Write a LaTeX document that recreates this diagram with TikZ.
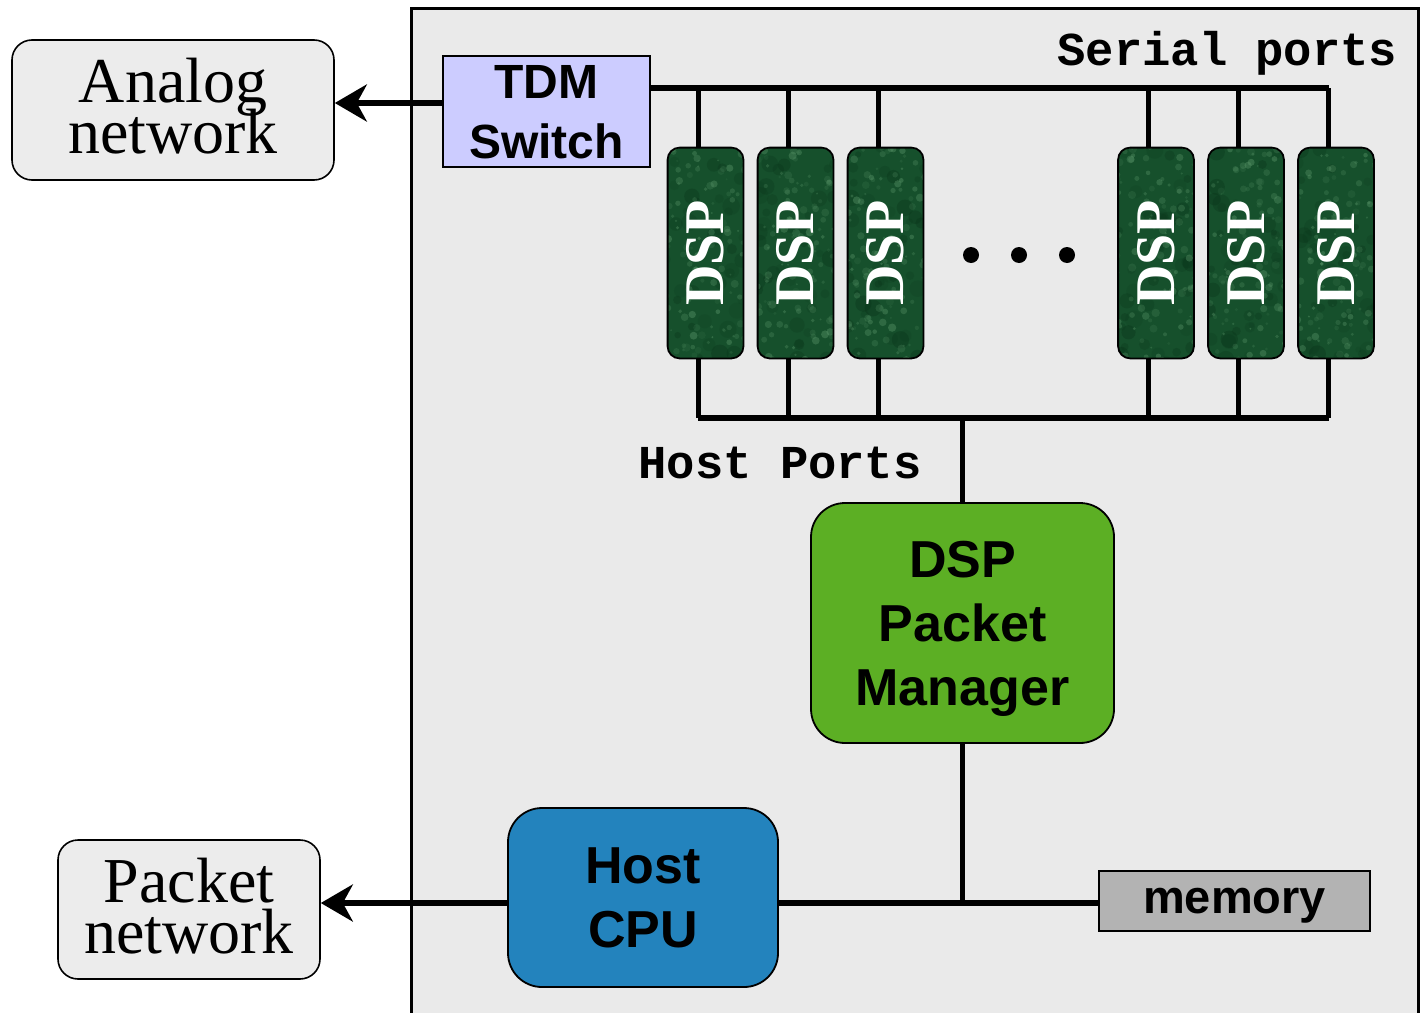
\documentclass[tikz,border=0pt]{standalone}
\usepackage{fontspec}
\setmainfont{Liberation Serif}
\setsansfont{Liberation Sans}
\setmonofont{Liberation Mono}
\usetikzlibrary{arrows.meta,calc}

\definecolor{panel}{RGB}{234,234,234}
\definecolor{netbox}{RGB}{236,236,236}
\definecolor{tdmfill}{RGB}{204,204,255}
\definecolor{pmfill}{RGB}{92,175,36}
\definecolor{cpufill}{RGB}{35,131,189}
\definecolor{memfill}{RGB}{179,179,179}
\definecolor{chipfill}{RGB}{22,80,44}
\definecolor{chipspeck}{RGB}{95,155,110}
\definecolor{chipdark}{RGB}{8,50,24}

\tikzset{
  bus/.style={line width=2.6pt},
  arr/.style={line width=2.8pt,-{Stealth[length=16pt,width=18.5pt,inset=5pt]}},
  netnode/.style={draw,line width=0.8pt,fill=netbox,rounded corners=10pt,
    align=center,inner sep=0pt,text depth=4pt,
    font={\fontsize{32}{25.5}\selectfont\lineskiplimit=-40pt}},
  unit/.style={draw,line width=0.9pt,align=center,inner sep=0pt,text depth=0pt,
    font=\sffamily\bfseries\fontsize{26}{32}\selectfont},
  chip/.style={fill=chipfill,minimum width=37.5pt,minimum height=105pt,
    inner sep=0pt,rounded corners=6pt},
  chiptext/.style={text=white,font=\bfseries\fontsize{28}{30}\selectfont,rotate=90,inner sep=0pt},
  portlabel/.style={font=\ttfamily\bfseries\fontsize{23.6}{26}\selectfont,inner sep=0pt},
  dot/.style={circle,fill=black,minimum size=8pt,inner sep=0pt}
}

\begin{document}
\begin{tikzpicture}[x=0.5pt,y=-0.5pt]
\useasboundingbox (0,0) rectangle (1428,1012);

% board outline
\fill[panel] (411,8) rectangle (1418,1030);
\draw[line width=1.5pt] (411,1030) -- (411,8) -- (1418,8) -- (1418,1030);

% outside networks
\node[netnode,minimum width=161pt,minimum height=70pt] (analog) at (173,110) {Analog\\network};
\node[netnode,minimum width=131pt,minimum height=69.5pt] (packet) at (189,909.5) {Packet\\network};

% functional units
\node[unit,fill=tdmfill,rounded corners=0pt,minimum width=103.5pt,minimum height=55.5pt,
  font=\sffamily\bfseries\fontsize{24}{30}\selectfont] (tdm) at (546.5,111.5) {TDM\\Switch};
\node[unit,fill=pmfill,rounded corners=17pt,minimum width=151.5pt,minimum height=120pt] (pm) at (962.5,623) {DSP\\Packet\\Manager};
\node[unit,fill=cpufill,rounded corners=17pt,minimum width=135pt,minimum height=89.5pt] (cpu) at (643,897.5) {Host\\CPU};
\node[unit,fill=memfill,rounded corners=0pt,minimum width=135.5pt,minimum height=30pt,
  font=\sffamily\bfseries\fontsize{23.5}{28}\selectfont] (mem) at (1234.5,901) {memory};

% bus levels
\coordinate (sbus) at (0,88);
\coordinate (hbus) at (0,418);
\coordinate (lbus) at (0,903);

% DSP chips with a mottled surface
\pgfmathsetseed{11}
\foreach \n/\x in {d1/705.5,d2/795.5,d3/885.5,d4/1156,d5/1246,d6/1336}{
  \node[chip] (\n) at (\x,253) {};
  \begin{scope}
    \clip[rounded corners=6pt] (\n.south west) rectangle (\n.north east);
    \foreach \k in {1,...,40}{
      \pgfmathsetmacro\rx{rand*20}
      \pgfmathsetmacro\ry{rand*54}
      \pgfmathsetmacro\rr{1.5+3*rnd}
      \pgfmathsetmacro\op{0.1+0.25*rnd}
      \fill[chipdark,opacity=\op] ([shift={(\rx pt,\ry pt)}]\n.center) circle[radius=\rr pt];
    }
    \foreach \k in {1,...,110}{
      \pgfmathsetmacro\rx{rand*20}
      \pgfmathsetmacro\ry{rand*54}
      \pgfmathsetmacro\rr{0.5+1.6*rnd}
      \pgfmathsetmacro\op{0.1+0.3*rnd}
      \fill[chipspeck,opacity=\op] ([shift={(\rx pt,\ry pt)}]\n.center) circle[radius=\rr pt];
    }
  \end{scope}
  \draw[line width=0.9pt,rounded corners=6pt] (\n.south west) rectangle (\n.north east);
  \node[chiptext] (\n-t) at (\n.center) {DSP};
  % serial and host port taps
  \draw[bus] ([xshift=-3.6pt]\n.north) -- ([xshift=-3.6pt]\n.north |- sbus);
  \draw[bus] ([xshift=-3.6pt]\n.south) -- ([xshift=-3.6pt]\n.south |- hbus);
}

% serial port bus
\draw[bus] (tdm.east |- sbus) -- ([xshift=-3.6pt]d6.north |- sbus);
% host port bus
\draw[bus] ([xshift=-3.6pt]d1.south |- hbus) -- ([xshift=-3.6pt]d6.south |- hbus);
\draw[bus] (pm.north |- hbus) -- (pm.north);
% local bus to host CPU and memory
\draw[bus] (pm.south) -- (pm.south |- lbus);
\draw[bus] (cpu.east |- lbus) -- (mem.west |- lbus);

% links to the outside networks
\draw[arr] ([yshift=4.25pt]tdm.west) -- ([yshift=4.25pt]tdm.west -| analog.east);
\draw[arr] (cpu.west |- lbus) -- (packet.east |- lbus);

% more chips
\node[dot] (dot1) at (971,255) {};
\node[dot] (dot2) at (1019,255) {};
\node[dot] (dot3) at (1067,255) {};

% port labels
\node[portlabel,anchor=base west] (serlbl) at (1057,65) {Serial ports};
\node[portlabel,anchor=base west] (hostlbl) at (638,478) {Host Ports};
\end{tikzpicture}
\end{document}
